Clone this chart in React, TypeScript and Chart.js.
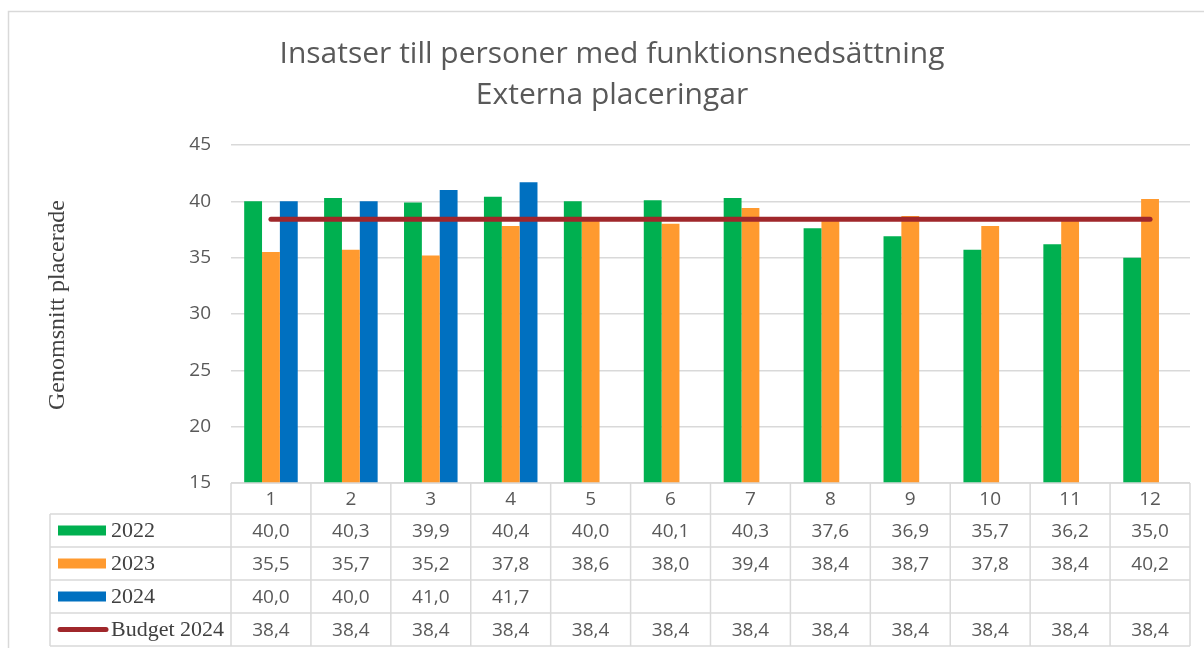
import React, { useEffect, useRef } from "react";
import { Chart, registerables } from "chart.js";

Chart.register(...registerables);

const TITLE_LINES = ["Insatser till personer med funktionsnedsättning", "Externa placeringar"];
const Y_TITLE = "Genomsnitt placerade";
const CATEGORIES = ["1", "2", "3", "4", "5", "6", "7", "8", "9", "10", "11", "12"];
const SERIES_NAMES = ["2022", "2023", "2024", "Budget 2024"];
const VALUES_2022 = [40.0, 40.3, 39.9, 40.4, 40.0, 40.1, 40.3, 37.6, 36.9, 35.7, 36.2, 35.0];
const VALUES_2023 = [35.5, 35.7, 35.2, 37.8, 38.6, 38.0, 39.4, 38.4, 38.7, 37.8, 38.4, 40.2];
const VALUES_2024 = [40.0, 40.0, 41.0, 41.7, null, null, null, null, null, null, null, null];
const VALUES_BUDGET = [38.4, 38.4, 38.4, 38.4, 38.4, 38.4, 38.4, 38.4, 38.4, 38.4, 38.4, 38.4];
const Y_MIN = 15;
const Y_MAX = 45;
const Y_STEP = 5;

const COLORS = ["#00B050", "#FF9A2F", "#0070C0", "#A0272B"];
const GRID = "#D9D9D9";
const TEXT = "#595959";
const SANS = "'Open Sans', sans-serif";
const SERIF = "'Liberation Serif', serif";

const fmt = (v: number | null) => (v === null || v === undefined ? "" : v.toFixed(1).replace(".", ","));

const decorPlugin = {
  id: "decor",
  afterDraw(chart: any) {
    const ctx = chart.ctx as CanvasRenderingContext2D;
    const area = chart.chartArea;
    const x = chart.scales.x;
    ctx.save();

    // outer frame
    ctx.strokeStyle = GRID;
    ctx.lineWidth = 1.5;
    ctx.strokeRect(8.5, 11.5, 1300, 800);

    // title
    ctx.fillStyle = TEXT;
    ctx.textAlign = "center";
    ctx.textBaseline = "alphabetic";
    ctx.font = `30px ${SANS}`;
    ctx.fillText(TITLE_LINES[0], 612, 63);
    ctx.fillText(TITLE_LINES[1], 612, 104);

    // y axis title
    ctx.save();
    ctx.translate(58, 305);
    ctx.rotate(-Math.PI / 2);
    ctx.font = `24px ${SERIF}`;
    ctx.fillStyle = "#404040";
    ctx.textBaseline = "middle";
    ctx.fillText(Y_TITLE, 0, 0);
    ctx.restore();

    // data table
    const half = (x.getPixelForValue(1) - x.getPixelForValue(0)) / 2;
    const top = area.bottom;
    const headerH = 31;
    const rowH = 33;
    const tableLeft = 50;
    const rows = [VALUES_2022, VALUES_2023, VALUES_2024, VALUES_BUDGET];
    const bottom = top + headerH + rowH * rows.length;

    ctx.strokeStyle = GRID;
    ctx.lineWidth = 1.5;
    ctx.beginPath();
    ctx.moveTo(area.left, top);
    ctx.lineTo(area.right, top);
    for (let r = 0; r <= rows.length; r++) {
      const y = top + headerH + r * rowH;
      ctx.moveTo(tableLeft, y);
      ctx.lineTo(area.right, y);
    }
    ctx.moveTo(tableLeft, top + headerH);
    ctx.lineTo(tableLeft, bottom);
    ctx.moveTo(area.left, top);
    ctx.lineTo(area.left, bottom);
    for (let i = 0; i < CATEGORIES.length; i++) {
      const bx = x.getPixelForValue(i) + half;
      ctx.moveTo(bx, top);
      ctx.lineTo(bx, bottom);
    }
    ctx.stroke();

    ctx.textAlign = "center";
    ctx.textBaseline = "middle";
    ctx.fillStyle = TEXT;
    ctx.font = `19px ${SANS}`;
    CATEGORIES.forEach((c, i) => {
      ctx.fillText(c, x.getPixelForValue(i), top + headerH / 2 + 1);
    });
    rows.forEach((vals, r) => {
      const cy = top + headerH + r * rowH + rowH / 2 + 1;
      vals.forEach((v, i) => {
        ctx.fillText(fmt(v as any), x.getPixelForValue(i), cy);
      });
    });

    // legend keys
    rows.forEach((_, r) => {
      const cy = top + headerH + r * rowH + rowH / 2;
      if (r < 3) {
        ctx.fillStyle = COLORS[r];
        ctx.fillRect(58, cy - 5, 48, 10);
      } else {
        ctx.strokeStyle = COLORS[r];
        ctx.lineWidth = 5;
        ctx.lineCap = "round";
        ctx.beginPath();
        ctx.moveTo(60, cy);
        ctx.lineTo(106, cy);
        ctx.stroke();
      }
      ctx.fillStyle = "#404040";
      ctx.textAlign = "left";
      ctx.font = `22px ${SERIF}`;
      ctx.fillText(SERIES_NAMES[r], 111, cy + 1);
    });

    ctx.restore();
  },
};

export default function App() {
  const ref = useRef<HTMLCanvasElement>(null);
  useEffect(() => {
    if (!ref.current) return;
    const chart = new Chart(ref.current, {
      type: "bar",
      data: {
        labels: CATEGORIES,
        datasets: [
          { type: "line", label: SERIES_NAMES[3], data: VALUES_BUDGET, borderColor: COLORS[3], backgroundColor: COLORS[3], borderWidth: 5, borderCapStyle: "round", pointRadius: 0, order: 0 } as any,
          { label: SERIES_NAMES[0], data: VALUES_2022, backgroundColor: COLORS[0], order: 1 },
          { label: SERIES_NAMES[1], data: VALUES_2023, backgroundColor: COLORS[1], order: 1 },
          { label: SERIES_NAMES[2], data: VALUES_2024 as any, backgroundColor: COLORS[2], order: 1 },
        ],
      },
      options: {
        responsive: false,
        animation: false,
        devicePixelRatio: 1,
        layout: { padding: { top: 145, bottom: 165, left: 0, right: 14 } },
        datasets: { bar: { barPercentage: 1, categoryPercentage: 0.67 } },
        plugins: { legend: { display: false }, title: { display: false }, tooltip: { enabled: false } },
        scales: {
          x: { display: false, offset: true },
          y: {
            min: Y_MIN,
            max: Y_MAX,
            ticks: { stepSize: Y_STEP, color: TEXT, font: { family: SANS, size: 19 }, padding: 20 },
            grid: { color: GRID, lineWidth: 1.5, drawTicks: false },
            border: { display: false },
            afterFit: (scale: any) => {
              scale.width = 231;
            },
          },
        },
      },
      plugins: [decorPlugin],
    });
    return () => chart.destroy();
  }, []);
  return (
    <div style={{ position: "absolute", left: 0, top: 0, width: 1204, height: 648, background: "#fff" }}>
      <canvas ref={ref} width={1204} height={648} style={{ display: "block" }} />
    </div>
  );
}
